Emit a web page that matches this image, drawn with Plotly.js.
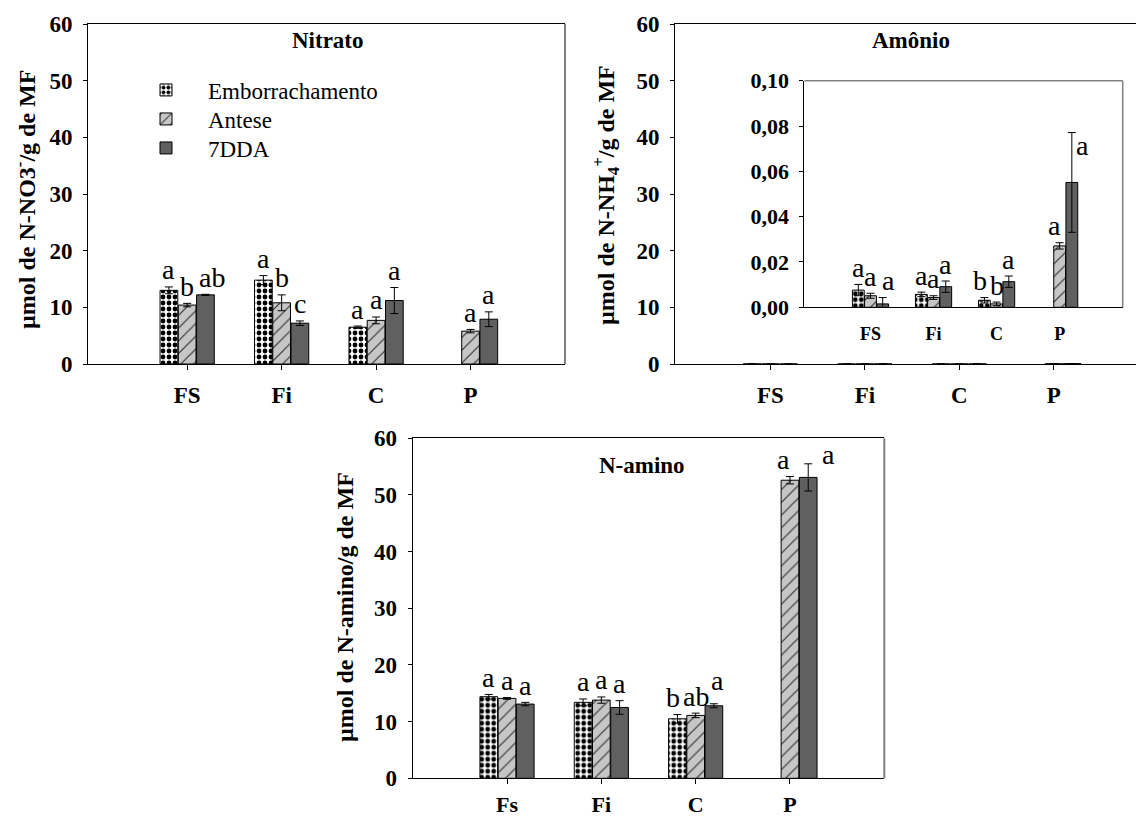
<!DOCTYPE html>
<html><head><meta charset="utf-8">
<script src="https://cdn.plot.ly/plotly-3.0.1.min.js"></script>
<style>html,body{margin:0;padding:0;background:#fff}</style>
</head><body><div id="chart" style="width:1136px;height:816px"></div>
<script>
// ---------- data ----------
const categoriesTop = ['FS', 'Fi', 'C', 'P'];
const categoriesBottom = ['Fs', 'Fi', 'C', 'P'];
const seriesNames = ['Emborrachamento', 'Antese', '7DDA'];

// Nitrato (µmol N-NO3-/g MF)
const nitratoEmb = [13.0, 14.8, 6.5, null];
const nitratoEmbErr = [0.6, 0.8, 0.2, null];
const nitratoAnt = [10.4, 10.8, 7.7, 5.8];
const nitratoAntErr = [0.3, 1.4, 0.6, 0.3];
const nitrato7dda = [12.2, 7.2, 11.2, 7.9];
const nitrato7ddaErr = [0.1, 0.4, 2.3, 1.3];
const nitratoEmbLetters = ['a', 'a', 'a', ''];
const nitratoAntLetters = ['b', 'b', 'a', 'a'];
const nitrato7ddaLetters = ['ab', 'c', 'a', 'a'];

// Amônio (µmol N-NH4+/g MF)
const amonioEmb = [0.0076, 0.0057, 0.0031, null];
const amonioEmbErr = [0.0025, 0.0010, 0.0012, null];
const amonioAnt = [0.0051, 0.0043, 0.0015, 0.0271];
const amonioAntErr = [0.0011, 0.0008, 0.0008, 0.0014];
const amonio7dda = [0.0015, 0.0091, 0.0113, 0.0551];
const amonio7ddaErr = [0.0028, 0.0025, 0.0025, 0.0220];
const amonioEmbLetters = ['a', 'a', 'b', ''];
const amonioAntLetters = ['a', 'a', 'b', 'a'];
const amonio7ddaLetters = ['a', 'a', 'a', 'a'];

// N-amino (µmol N-amino/g MF)
const aminoEmb = [14.4, 13.4, 10.5, null];
const aminoEmbErr = [0.4, 0.6, 0.75, null];
const aminoAnt = [14.1, 13.8, 11.1, 52.6];
const aminoAntErr = [0.15, 0.55, 0.4, 0.65];
const amino7dda = [13.1, 12.5, 12.8, 53.1];
const amino7ddaErr = [0.3, 1.2, 0.35, 2.4];
const aminoEmbLetters = ['a', 'a', 'b', ''];
const aminoAntLetters = ['a', 'a', 'ab', 'a'];
const amino7ddaLetters = ['a', 'a', 'a', 'a'];

// ---------- styling ----------
const W = 1136, H = 816;
const SERIF = 'Liberation Serif, Times New Roman, serif';
const BARGAP = 0.42;
const BW = (1 - BARGAP) / 3;

const seriesStyles = [
  {color: '#ffffff', pattern: {shape: '.', bgcolor: '#ffffff', fgcolor: '#000000', fillmode: 'replace', size: 6, solidity: 0.5}},
  {color: '#c6c6c6', pattern: {shape: '/', bgcolor: '#c6c6c6', fgcolor: '#333333', fillmode: 'replace', size: 9, solidity: 0.13}},
  {color: '#606060', pattern: {shape: ''}}
];
const legendIds = ['legend', 'legend2', 'legend3'];
const legendRowsPx = [90, 119, 148];

function px2x(p) { return p / W; }
function py2y(p) { return (H - p) / H; }

const panels = [
  {xa: 'x', ya: 'y', cats: categoriesTop,
   vals: [nitratoEmb, nitratoAnt, nitrato7dda], errs: [nitratoEmbErr, nitratoAntErr, nitrato7ddaErr],
   letters: [nitratoEmbLetters, nitratoAntLetters, nitrato7ddaLetters], legend: true,
   nudges: {'2-0': [7, 0]}},
  {xa: 'x2', ya: 'y2', cats: categoriesTop,
   vals: [amonioEmb, amonioAnt, amonio7dda], errs: [amonioEmbErr, amonioAntErr, amonio7ddaErr],
   letters: null, legend: false},
  {xa: 'x3', ya: 'y3', cats: categoriesTop,
   vals: [amonioEmb, amonioAnt, amonio7dda], errs: [amonioEmbErr, amonioAntErr, amonio7ddaErr],
   letters: [amonioEmbLetters, amonioAntLetters, amonio7ddaLetters], legend: false,
   nudges: {'2-0': [6, 0], '2-3': [11, -30], '1-3': [-5, 0], '0-2': [-4, 0]}},
  {xa: 'x4', ya: 'y4', cats: categoriesBottom,
   vals: [aminoEmb, aminoAnt, amino7dda], errs: [aminoEmbErr, aminoAntErr, amino7ddaErr],
   letters: [aminoEmbLetters, aminoAntLetters, amino7ddaLetters], legend: false,
   nudges: {'2-3': [20, -8], '1-3': [-6, 0], '0-2': [-4, 0], '2-2': [4, 6]}}
];

const traces = [];
const annotations = [];
panels.forEach(p => {
  const xs = p.cats.map((c, i) => i);
  for (let s = 0; s < 3; s++) {
    traces.push({
      type: 'bar', name: seriesNames[s], x: xs, y: p.vals[s],
      xaxis: p.xa, yaxis: p.ya, showlegend: p.legend, legend: legendIds[s],
      marker: {color: seriesStyles[s].color, pattern: seriesStyles[s].pattern,
               line: {color: '#000000', width: 1}},
      error_y: {type: 'data', array: p.errs[s], visible: true, color: '#000000', thickness: 1, width: 4},
      hoverinfo: 'skip'
    });
    if (p.letters) {
      for (let i = 0; i < xs.length; i++) {
        const L = p.letters[s][i];
        if (!L || p.vals[s][i] == null) continue;
        const n = (p.nudges && p.nudges[s + '-' + i]) || [0, 0];
        annotations.push({
          xref: p.xa, yref: p.ya, x: i + (s - 1) * BW, y: p.vals[s][i] + p.errs[s][i],
          text: L, showarrow: false, yanchor: 'middle', xanchor: 'center',
          yshift: 17 + n[1], xshift: n[0],
          font: {family: SERIF, size: 28, color: '#000000'}
        });
      }
    }
  }
});

// panel titles
[['Nitrato', 328, 40], ['Amônio', 911, 40], ['N-amino', 642, 465]].forEach(t => {
  annotations.push({xref: 'paper', yref: 'paper', x: px2x(t[1]), y: py2y(t[2]), text: t[0],
    showarrow: false, xanchor: 'center', yanchor: 'middle',
    font: {family: SERIF, size: 23, weight: 'bold', color: '#000'}});
});
// y axis titles
[['µmol de N-NO3<sup>-</sup>/g de MF', 25, 200], ['µmol de N-NH<sub>4</sub><sup>+</sup>/g de MF', 606, 195],
 ['µmol de N-amino/g de MF', 345, 607]].forEach(t => {
  annotations.push({xref: 'paper', yref: 'paper', x: px2x(t[1]), y: py2y(t[2]), text: t[0],
    showarrow: false, xanchor: 'center', yanchor: 'middle', textangle: -90,
    font: {family: SERIF, size: 24, weight: 'bold', color: '#000'}});
});

function xaxisCfg(anchor, domPx, range, cats, opts) {
  return Object.assign({
    anchor: anchor,
    domain: [px2x(domPx[0]), px2x(domPx[1])], range: range, type: 'linear',
    tickmode: 'array', tickvals: cats.map((c, i) => i), ticktext: cats,
    showgrid: false, zeroline: false, showline: true, linecolor: '#000', linewidth: 1,
    mirror: true, ticks: 'outside', ticklen: 5, tickcolor: '#000',
    tickfont: {family: SERIF, size: 23, weight: 'bold', color: '#000'}, ticklabelstandoff: 5,
    fixedrange: true
  }, opts || {});
}
function yaxisCfg(anchor, domPx, range, opts) {
  return Object.assign({
    anchor: anchor,
    domain: [py2y(domPx[1]), py2y(domPx[0])], range: range,
    showgrid: false, zeroline: false, showline: true, linecolor: '#000', linewidth: 1,
    ticks: 'outside', ticklen: 4, tickcolor: '#000', dtick: 10,
    tickfont: {family: SERIF, size: 23, weight: 'bold', color: '#000'}, ticklabelstandoff: 6,
    fixedrange: true
  }, opts || {});
}

function legendCfg(rowPx) {
  return {x: px2x(124), y: py2y(rowPx), xanchor: 'left', yanchor: 'middle', bgcolor: 'rgba(0,0,0,0)',
          font: {family: SERIF, size: 23, color: '#000'}, itemwidth: 74};
}

const layout = {
  width: W, height: H, margin: {l: 0, r: 0, t: 0, b: 0},
  paper_bgcolor: '#fff', plot_bgcolor: 'rgba(0,0,0,0)',
  barmode: 'group', bargap: BARGAP, bargroupgap: 0.03,
  showlegend: true,
  legend: legendCfg(legendRowsPx[0]),
  legend2: legendCfg(legendRowsPx[1]),
  legend3: legendCfg(legendRowsPx[2]),
  xaxis: xaxisCfg('y', [88, 565], [-1.05, 4.0], categoriesTop),
  yaxis: yaxisCfg('x', [24, 364], [0, 60]),
  xaxis2: xaxisCfg('y2', [675, 1136], [-1.01, 3.87], categoriesTop),
  yaxis2: yaxisCfg('x2', [24, 364], [0, 60]),
  xaxis3: xaxisCfg('y3', [804.3, 1122.7], [-1.05, 4.0], categoriesTop,
    {mirror: false, ticks: '', ticklabelstandoff: 10, tickfont: {family: SERIF, size: 18, weight: 'bold', color: '#000'}}),
  yaxis3: yaxisCfg('x3', [80.7, 307.3], [0, 0.1],
    {dtick: 0.02, tickformat: '.2f', tickfont: {family: SERIF, size: 22, weight: 'bold', color: '#000'}}),
  xaxis4: xaxisCfg('y4', [412.7, 884.3], [-1, 4], categoriesBottom,
    {ticklabelstandoff: 1, tickfont: {family: SERIF, size: 22, weight: 'bold', color: '#000'}}),
  yaxis4: yaxisCfg('x4', [438.3, 778.3], [0, 60]),
  separators: ',.',
  annotations: annotations,
  shapes: [
    {type: 'line', xref: 'x domain', yref: 'y domain', x0: 1, x1: 1, y0: 0, y1: 1, line: {color: '#808080', width: 2}},
    {type: 'line', xref: 'x3 domain', yref: 'y3 domain', x0: 1, x1: 1, y0: 0, y1: 1, line: {color: '#808080', width: 1.5}},
    {type: 'line', xref: 'x3 domain', yref: 'y3 domain', x0: 0, x1: 1, y0: 1, y1: 1, line: {color: '#808080', width: 1.5}},
    {type: 'line', xref: 'x4 domain', yref: 'y4 domain', x0: 1, x1: 1, y0: 0, y1: 1, line: {color: '#808080', width: 2}}
  ]
};

Plotly.newPlot('chart', traces, layout, {displayModeBar: false, staticPlot: true});
</script>
</body></html>
